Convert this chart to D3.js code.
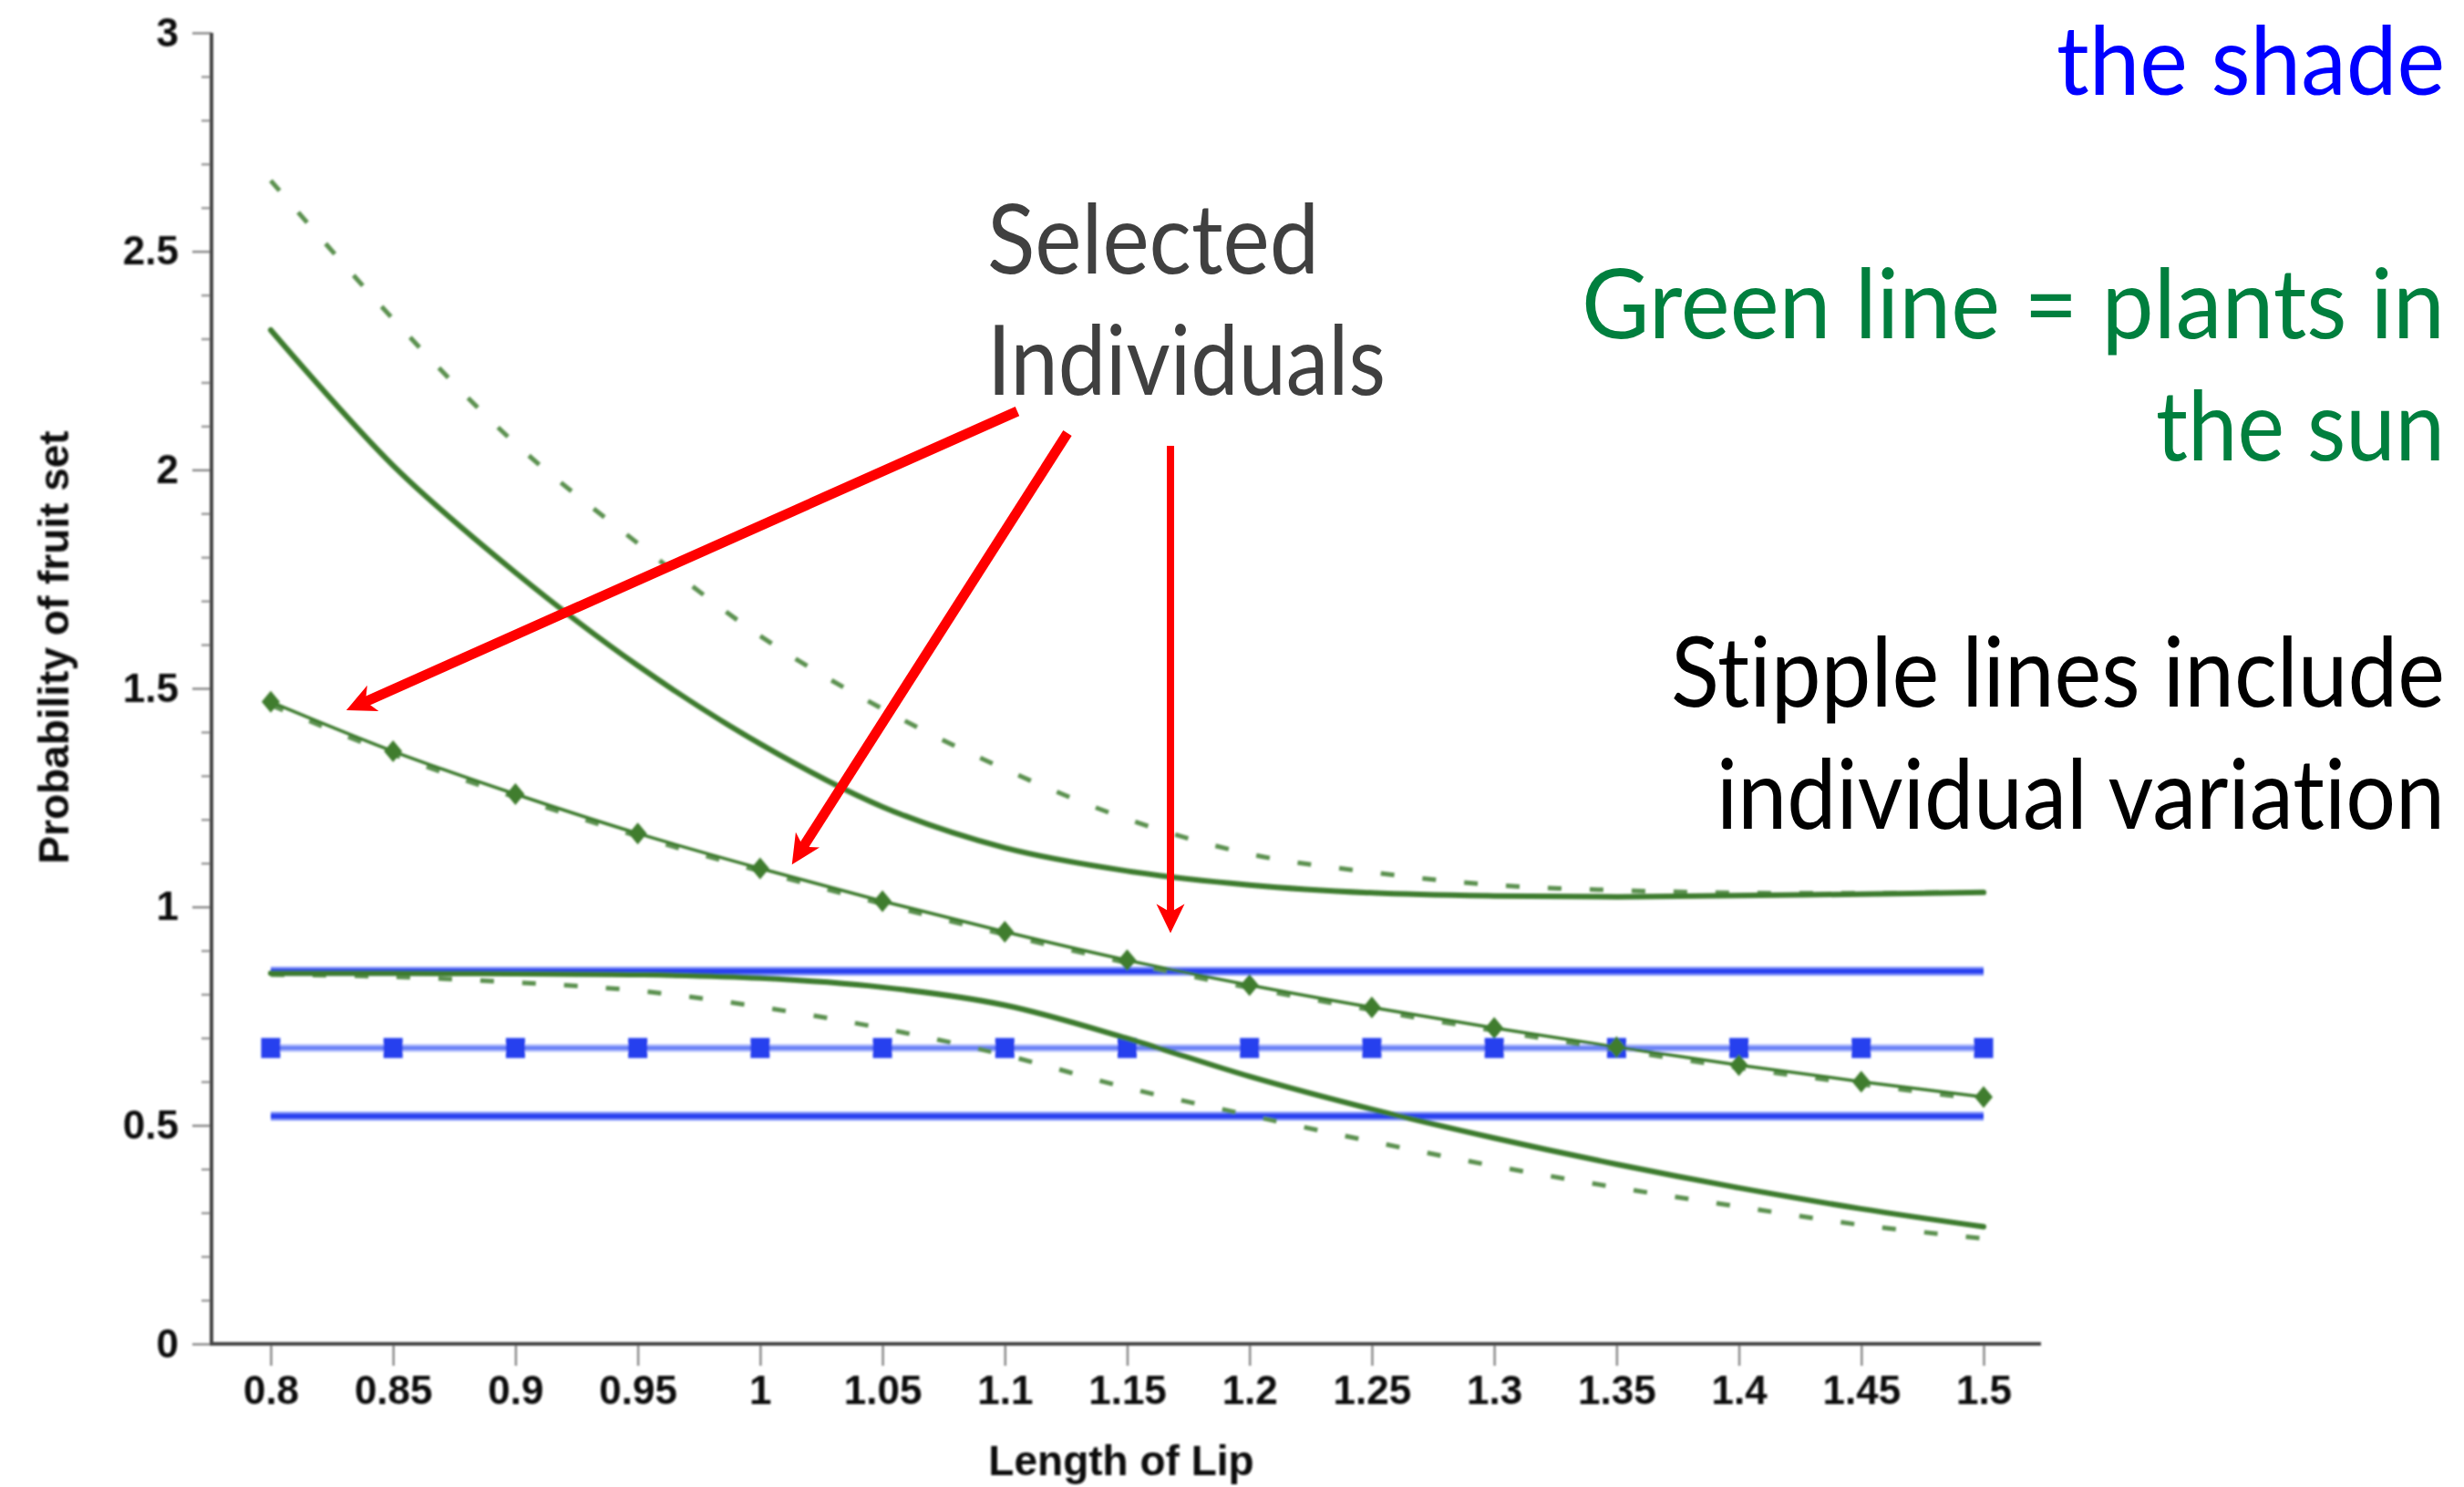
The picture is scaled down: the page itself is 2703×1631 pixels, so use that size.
<!DOCTYPE html>
<html>
<head>
<meta charset="utf-8">
<script src="https://cdn.jsdelivr.net/npm/d3@7"></script>
<style>
  html, body { margin: 0; padding: 0; background: #ffffff; }
  svg { display: block; }
</style>
</head>
<body>
<svg id="chart" width="2703" height="1631"></svg>
<script>
// ---- data -------------------------------------------------------------
// Lip length at which every curve is evaluated
const lipLength = [0.8, 0.85, 0.9, 0.95, 1.0, 1.05, 1.1, 1.15, 1.2, 1.25, 1.3, 1.35, 1.4, 1.45, 1.5];
const xTickLabels = ["0.8", "0.85", "0.9", "0.95", "1", "1.05", "1.1", "1.15", "1.2", "1.25", "1.3", "1.35", "1.4", "1.45", "1.5"];
const yTickValues = [0, 0.5, 1, 1.5, 2, 2.5, 3];
const yTickLabels = ["0", "0.5", "1", "1.5", "2", "2.5", "3"];

// Plants in the sun (green): solid = fitted, stipple = with individual variation
const sunUpperFit   = [2.32, 2.01, 1.765, 1.552, 1.373, 1.229, 1.135, 1.082, 1.05, 1.032, 1.025, 1.023, 1.026, 1.029, 1.033];
const sunUpperIndiv = [2.662, 2.345, 2.06, 1.832, 1.62, 1.453, 1.315, 1.201, 1.121, 1.079, 1.05, 1.038, 1.032, 1.031, 1.034];
const sunMidFit     = [1.469, 1.356, 1.258, 1.168, 1.088, 1.013, 0.943, 0.878, 0.821, 0.77, 0.723, 0.679, 0.638, 0.6, 0.565];
const sunMidIndiv   = [1.463, 1.350, 1.252, 1.163, 1.083, 1.008, 0.938, 0.873, 0.816, 0.765, 0.718, 0.674, 0.633, 0.595, 0.56];
const sunLowerFit   = [0.848, 0.848, 0.847, 0.845, 0.837, 0.816, 0.775, 0.699, 0.612, 0.537, 0.471, 0.411, 0.357, 0.309, 0.268];
const sunLowerIndiv = [0.845, 0.84, 0.827, 0.808, 0.771, 0.722, 0.661, 0.586, 0.523, 0.463, 0.407, 0.358, 0.314, 0.272, 0.241];

// Plants in the shade (blue)
const shadeUpper = [0.853, 0.853, 0.853, 0.853, 0.853, 0.853, 0.853, 0.853, 0.853, 0.853, 0.853, 0.853, 0.853, 0.853, 0.853];
const shadeMid   = [0.677, 0.677, 0.677, 0.677, 0.677, 0.677, 0.677, 0.677, 0.677, 0.677, 0.677, 0.677, 0.677, 0.677, 0.677];
const shadeLower = [0.521, 0.521, 0.521, 0.521, 0.521, 0.521, 0.521, 0.521, 0.521, 0.521, 0.521, 0.521, 0.521, 0.521, 0.521];

// Call-out arrows, in data units: [lip length, probability]
const arrowFrom = [[1.1051, 2.134], [1.1256, 2.084], [1.1677, 2.055]];
const arrowTo   = [[0.8309, 1.450], [1.0130, 1.097], [1.1677, 0.940]];
const arrowWidth = [11, 11, 8];

// ---- layout -------------------------------------------------------------
const svg = d3.select("#chart");
const x = d3.scaleLinear().domain([0.8, 1.5]).range([297, 2176]);
const y = d3.scaleLinear().domain([0, 3]).range([1474, 36]);
const axisX0 = 232, axisX1 = 2239;

const defs = svg.append("defs");
defs.append("filter").attr("id", "soft")
  .attr("x", "-5%").attr("y", "-5%").attr("width", "110%").attr("height", "110%")
  .append("feGaussianBlur").attr("stdDeviation", 1.1);

const plot = svg.append("g").attr("filter", "url(#soft)");
const axisFont = "'Liberation Sans', Arial, Helvetica, sans-serif";

// ---- axes -----------------------------------------------------------------
const xAxis = plot.append("g")
  .attr("transform", `translate(0,${y(0)})`)
  .call(d3.axisBottom(x).tickValues(lipLength).tickSize(24)
    .tickFormat((d, i) => xTickLabels[i]))
  .call(g => g.select(".domain").remove());
xAxis.selectAll(".tick line").attr("stroke", "#8a8a8a").attr("stroke-width", 2.5);
xAxis.selectAll(".tick text")
  .attr("y", 66).attr("dy", null)
  .attr("fill", "#111")
  .style("font-family", axisFont).style("font-weight", "bold").style("font-size", "44px");

const minorY = d3.range(1, 30).map(v => v / 10).filter(v => Math.abs(v * 2 - Math.round(v * 2)) > 1e-6);
plot.append("g")
  .attr("transform", `translate(${axisX0},0)`)
  .call(d3.axisLeft(y).tickValues(minorY).tickSize(11).tickFormat(""))
  .call(g => g.select(".domain").remove())
  .selectAll(".tick line").attr("stroke", "#9a9a9a").attr("stroke-width", 2.5);

const yAxis = plot.append("g")
  .attr("transform", `translate(${axisX0},0)`)
  .call(d3.axisLeft(y).tickValues(yTickValues).tickSize(21).tickPadding(15)
    .tickFormat((d, i) => yTickLabels[i]))
  .call(g => g.select(".domain").remove());
yAxis.selectAll(".tick line").attr("stroke", "#8a8a8a").attr("stroke-width", 2.5);
yAxis.selectAll(".tick text")
  .attr("fill", "#111")
  .style("font-family", axisFont).style("font-weight", "bold").style("font-size", "44px");

// axis lines
plot.append("line").attr("x1", axisX0).attr("x2", axisX0).attr("y1", y(3)).attr("y2", y(0) + 2)
  .attr("stroke", "#444").attr("stroke-width", 4);
plot.append("line").attr("x1", axisX0).attr("x2", axisX1).attr("y1", y(0)).attr("y2", y(0))
  .attr("stroke", "#444").attr("stroke-width", 4);

// axis titles
plot.append("text")
  .attr("transform", "translate(75,710) rotate(-90)")
  .attr("text-anchor", "middle")
  .style("font-family", axisFont).style("font-weight", "bold").style("font-size", "46px")
  .attr("fill", "#111")
  .text("Probability of fruit set");
plot.append("text")
  .attr("x", 1230).attr("y", 1618)
  .attr("text-anchor", "middle")
  .style("font-family", axisFont).style("font-weight", "bold").style("font-size", "46px")
  .attr("fill", "#111")
  .text("Length of Lip");

// ---- series ---------------------------------------------------------------
const line = d3.line().x(d => x(d[0])).y(d => y(d[1])).curve(d3.curveCatmullRom.alpha(0.5));
const pts = vals => lipLength.map((l, i) => [l, vals[i]]);

// shade (blue)
function shadeLine(vals, color, width, halo) {
  plot.append("path").attr("d", line(pts(vals))).attr("fill", "none")
    .attr("stroke", halo).attr("stroke-width", width + 4);
  plot.append("path").attr("d", line(pts(vals))).attr("fill", "none")
    .attr("stroke", color).attr("stroke-width", width);
}
shadeLine(shadeUpper, "#2a42f0", 6, "#8d9ffa");
shadeLine(shadeLower, "#2a42f0", 6, "#8d9ffa");
shadeLine(shadeMid, "#6d84f7", 5, "#c0cafc");
plot.append("g").selectAll("rect").data(pts(shadeMid)).join("rect")
  .attr("x", d => x(d[0]) - 10.5).attr("y", d => y(d[1]) - 11)
  .attr("width", 21).attr("height", 22)
  .attr("fill", "#2540ee");

// sun (green)
const green = "#3e7b2e";
const greenDash = "#5b9150";
function sunSolid(vals, width) {
  plot.append("path").attr("d", line(pts(vals))).attr("fill", "none")
    .attr("stroke", green).attr("stroke-width", width).attr("stroke-linecap", "round");
}
function sunDashed(vals, width) {
  plot.append("path").attr("d", line(pts(vals))).attr("fill", "none")
    .attr("stroke", greenDash).attr("stroke-width", width)
    .attr("stroke-dasharray", "15 31");
}
sunDashed(sunUpperIndiv, 5);
sunDashed(sunLowerIndiv, 5);
sunDashed(sunMidIndiv, 6);
sunSolid(sunUpperFit, 6);
sunSolid(sunLowerFit, 6);
sunSolid(sunMidFit, 3.5);

// diamond markers on the middle curve
plot.append("g").selectAll("path").data(pts(sunMidFit)).join("path")
  .attr("transform", d => `translate(${x(d[0])},${y(d[1])})`)
  .attr("d", "M0,-12L10,0L0,12L-10,0Z")
  .attr("fill", "#3f7d2f");

// ---- call-out arrows --------------------------------------------------------
const arrows = svg.append("g");
arrowFrom.forEach((f, i) => {
  const t = arrowTo[i];
  const x0 = x(f[0]), y0 = y(f[1]), x1 = x(t[0]), y1 = y(t[1]);
  const len = Math.hypot(x1 - x0, y1 - y0);
  const ux = (x1 - x0) / len, uy = (y1 - y0) / len;
  const nx = -uy, ny = ux;
  const L = 32, hw = 15.5, notch = 9;
  const bx = x1 - ux * L, by = y1 - uy * L;
  const sx = x1 - ux * (L - notch), sy = y1 - uy * (L - notch);
  arrows.append("line")
    .attr("x1", x0).attr("y1", y0).attr("x2", sx + ux * 2).attr("y2", sy + uy * 2)
    .attr("stroke", "#ff0000").attr("stroke-width", arrowWidth[i]);
  arrows.append("path")
    .attr("d", `M${x1},${y1}L${bx + nx * hw},${by + ny * hw}L${sx},${sy}L${bx - nx * hw},${by - ny * hw}Z`)
    .attr("fill", "#ff0000");
});

// ---- annotation text --------------------------------------------------------
// Each line is squeezed horizontally to its set width (a narrow humanist face).
const noteFont = "Lato, 'Open Sans', 'Noto Sans', sans-serif";
function fitText(sel, anchor) {
  sel.each(function (d) {
    const t = d3.select(this);
    const natural = this.getComputedTextLength();
    const sx = d.width / natural;
    t.attr("transform", `translate(${d.x},${d.base}) scale(${sx},1)`)
     .attr("text-anchor", anchor);
  });
}
const rightEdge = 2682;
const notes = [
  { text: "the shade", color: "#0000ff", base: 104, size: 104, width: 426, x: rightEdge },
  { text: "Green line = plants in", color: "#007f3e", base: 371, size: 107, width: 947, x: rightEdge },
  { text: "the sun", color: "#007f3e", base: 505, size: 107, width: 317, x: rightEdge },
  { text: "Stipple lines include", color: "#000000", base: 775, size: 107, width: 849, x: rightEdge },
  { text: "individual variation", color: "#000000", base: 909, size: 107, width: 799, x: rightEdge }
];
svg.append("g").selectAll("text").data(notes).join("text")
  .attr("fill", d => d.color)
  .style("font-family", noteFont).style("font-size", d => d.size + "px")
  .style("font-variant-ligatures", "none")
  .text(d => d.text)
  .call(fitText, "end");

const callout = [
  { text: "Selected", base: 300, width: 364, x: 1083 },
  { text: "Individuals", base: 433, width: 437, x: 1083 }
];
svg.append("g").selectAll("text").data(callout).join("text")
  .attr("fill", "#404040")
  .style("font-family", noteFont).style("font-size", "107px")
  .style("font-variant-ligatures", "none")
  .text(d => d.text)
  .call(fitText, "start");
</script>
</body>
</html>
